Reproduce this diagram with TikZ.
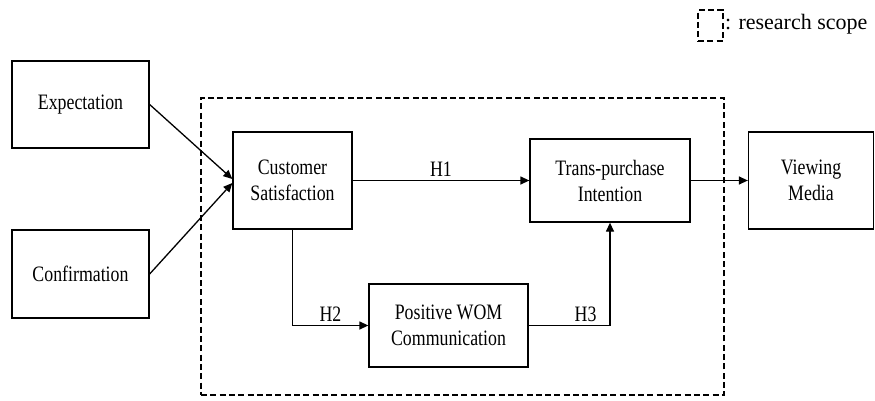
\documentclass[tikz,border=0pt]{standalone}
\usepackage{fontspec}
\setmainfont{Liberation Serif}
\newfontfamily\condfont[FakeStretch=0.81]{Liberation Serif}
\usetikzlibrary{arrows.meta}
\begin{document}
\begin{tikzpicture}[x=1pt,y=-1pt,
  box/.style={draw=black, line width=1.3pt, inner sep=0pt, align=center,
    font=\condfont\fontsize{22}{26}\selectfont},
  lbl/.style={font=\condfont\fontsize{22}{26}\selectfont},
  conn/.style={line width=1.3pt, -{Triangle[length=9pt,width=8pt]}},
  scopebox/.style={draw=black, line width=1.7pt, dash pattern=on 6pt off 3.3pt, inner sep=0pt}]
\useasboundingbox (0,0) rectangle (875,401);
% research scope
\node[scopebox, minimum width=523pt, minimum height=297pt] (scope) at (462.5,246.5) {};
% boxes
\node[box, minimum width=137pt, minimum height=87pt] (exp) at (80.5,104.5) {Expectation};
\node[box, minimum width=137pt, minimum height=88pt] (conf) at (80.5,274) {Confirmation};
\node[box, minimum width=119pt, minimum height=97pt] (cs) at (292.5,180.5) {Customer\\Satisfaction};
\node[box, minimum width=160pt, minimum height=83pt] (tp) at (610,180.5) {Trans-purchase\\Intention};
\node[box, minimum width=159pt, minimum height=83pt] (wom) at (448.5,325.5) {Positive WOM\\Communication};
\node[box, minimum width=125pt, minimum height=97pt] (vm) at (811,180.5) {Viewing\\Media};
% legend
\node[scopebox, minimum width=25pt, minimum height=31pt] (legbox) at (710.5,25.5) {};
\node[anchor=base west, inner sep=1pt, font=\fontsize{22}{26}\selectfont] (legtxt) at (legbox.east |- 0,30) {: research scope};
% connectors
\draw[conn] (exp.east) -- ([yshift=1.5pt]cs.west);
\draw[conn] (conf.east) -- ([yshift=-2.5pt]cs.west);
\draw[conn] (cs.east) -- node[lbl, above] (h1) {H1} (tp.west);
\draw[conn] (cs.south) |- node[lbl, above, pos=0.75] (h2) {H2} (wom.west);
\draw[conn] (wom.east) -| node[lbl, above, pos=0.35] (h3) {H3} (tp.south);
\draw[conn] (tp.east) -- (vm.west);
\end{tikzpicture}
\end{document}
